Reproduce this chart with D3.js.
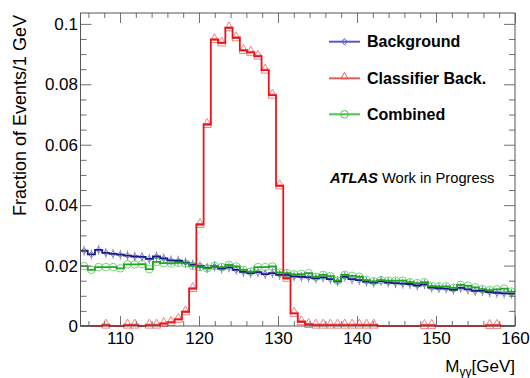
<!DOCTYPE html>
<html>
<head>
<meta charset="utf-8">
<script src="https://cdn.jsdelivr.net/npm/d3@7"></script>
<style>
  html, body { margin: 0; padding: 0; background: #fff; }
  svg { display: block; font-family: "Liberation Sans", Arial, Helvetica, sans-serif; }
</style>
</head>
<body>
<svg id="chart" width="530" height="378"></svg>
<script>
// Histogram binning: 60 bins spanning the diphoton mass window
const massLow = 105;
const massHigh = 160;
const nBins = 60;

// Normalised bin contents (fraction of events per bin)
const background = [
  0.0249, 0.0237, 0.0252, 0.0242, 0.0239, 0.0236, 0.0233, 0.0230, 0.0229, 0.0222,
  0.0230, 0.0224, 0.0217, 0.0216, 0.0210, 0.0203, 0.0198, 0.0192, 0.0197, 0.0190,
  0.0194, 0.0186, 0.0179, 0.0175, 0.0178, 0.0172, 0.0175, 0.0169, 0.0169, 0.0164,
  0.0163, 0.0161, 0.0158, 0.0161, 0.0155, 0.0148, 0.0163, 0.0155, 0.0152, 0.0147,
  0.0144, 0.0149, 0.0144, 0.0142, 0.0140, 0.0139, 0.0134, 0.0138, 0.0127, 0.0125,
  0.0124, 0.0120, 0.0126, 0.0121, 0.0116, 0.0116, 0.0112, 0.0110, 0.0108, 0.0107
];
const classifierBack = [
  0, 0, 0, 0.0003, 0, 0, 0.0003, 0.0003, 0, 0.0003,
  0.0003, 0.0008, 0.0012, 0.0022, 0.0047, 0.0124, 0.0336, 0.0667, 0.0948, 0.0937,
  0.0987, 0.0954, 0.0912, 0.0906, 0.0893, 0.0847, 0.0764, 0.0464, 0.0158, 0.0042,
  0.0014, 0.0005, 0.0003, 0.0003, 0.0003, 0.0003, 0.0003, 0.0003, 0.0003, 0.0003,
  0.0003, 0, 0, 0, 0, 0, 0, 0.0002, 0.0002, 0,
  0, 0, 0, 0, 0, 0, 0.0002, 0.0002, 0, 0
];
const combined = [
  0.0198, 0.0186, 0.0195, 0.0195, 0.0195, 0.0191, 0.0204, 0.0204, 0.0205, 0.0188,
  0.0212, 0.0208, 0.0207, 0.0209, 0.0207, 0.0199, 0.0195, 0.0191, 0.0199, 0.0195,
  0.0202, 0.0197, 0.0186, 0.0180, 0.0195, 0.0195, 0.0197, 0.0177, 0.0175, 0.0171,
  0.0172, 0.0175, 0.0163, 0.0169, 0.0165, 0.0150, 0.0169, 0.0166, 0.0163, 0.0152,
  0.0148, 0.0152, 0.0150, 0.0150, 0.0150, 0.0145, 0.0142, 0.0145, 0.0132, 0.0131,
  0.0131, 0.0126, 0.0136, 0.0133, 0.0128, 0.0122, 0.0119, 0.0121, 0.0124, 0.0114
];

// Axis ticks and labels
const xMajorTicks = [110, 120, 130, 140, 150, 160];
const xMinorTicks = [106, 108, 112, 114, 116, 118, 122, 124, 126, 128, 132, 134, 136, 138,
                     142, 144, 146, 148, 152, 154, 156, 158];
const yMajorTicks = [0, 0.02, 0.04, 0.06, 0.08, 0.1];
const yTickLabels = ["0", "0.02", "0.04", "0.06", "0.08", "0.1"];
const yMinorTicks = [0.005, 0.01, 0.015, 0.025, 0.03, 0.035, 0.045, 0.05, 0.055,
                     0.065, 0.07, 0.075, 0.085, 0.09, 0.095];
const yMax = 0.1036;

const legendLabels = ["Background", "Classifier Back.", "Combined"];

const svg = d3.select("#chart");
const frame = { left: 80.5, right: 515, top: 13, bottom: 326 };

const x = d3.scaleLinear().domain([massLow, massHigh]).range([frame.left, frame.right]);
const y = d3.scaleLinear().domain([0, yMax]).range([frame.bottom, frame.top]);

const binWidth = (massHigh - massLow) / nBins;
const binLowEdge = i => massLow + i * binWidth;
const binCenter = i => massLow + (i + 0.5) * binWidth;

const series = [
  { name: legendLabels[0], values: background, line: "#1c1c86", mark: "#5858c8", marker: "diamond" },
  { name: legendLabels[1], values: classifierBack, line: "#e8161c", mark: "#ee5a5a", marker: "triangle" },
  { name: legendLabels[2], values: combined, line: "#1ea81e", mark: "#4cc44c", marker: "circle" }
];

// Step outline for a histogram
function stepPoints(values) {
  const pts = [];
  values.forEach((v, i) => {
    pts.push([binLowEdge(i), v]);
    pts.push([binLowEdge(i + 1), v]);
  });
  return pts;
}
const stepLine = d3.line().x(d => x(d[0])).y(d => y(d[1]));

const plot = svg.append("g");

function drawMarker(g, kind, cx, cy, color, withBar) {
  if (kind === "diamond") {
    if (withBar) {
      g.append("line").attr("x1", cx).attr("x2", cx).attr("y1", cy - 5).attr("y2", cy + 5)
        .attr("stroke", color).attr("stroke-width", 1);
    }
    g.append("path")
      .attr("d", `M${cx},${cy - 3.2}L${cx + 2.6},${cy}L${cx},${cy + 3.2}L${cx - 2.6},${cy}Z`)
      .attr("fill", "none").attr("stroke", color).attr("stroke-width", 1);
  } else if (kind === "triangle") {
    if (withBar) {
      g.append("rect").attr("x", cx - 3.8).attr("y", cy - 1).attr("width", 7.6).attr("height", 4)
        .attr("fill", "none").attr("stroke", color).attr("stroke-width", 1);
    }
    g.append("path")
      .attr("d", `M${cx},${cy - 6}L${cx + 3.6},${cy + 0.5}L${cx - 3.6},${cy + 0.5}Z`)
      .attr("fill", "none").attr("stroke", color).attr("stroke-width", 1);
  } else {
    g.append("circle").attr("cx", cx).attr("cy", cy).attr("r", 3.8)
      .attr("fill", "none").attr("stroke", color).attr("stroke-width", 1);
  }
}

// Histograms: markers first, then the step outlines
series.forEach(s => {
  const mg = plot.append("g").attr("opacity", 0.75);
  s.values.forEach((v, i) => {
    if (v > 0) drawMarker(mg, s.marker, x(binCenter(i)), y(v), s.mark, true);
  });
});
series.forEach(s => {
  plot.append("path")
    .attr("d", stepLine(stepPoints(s.values)))
    .attr("fill", "none")
    .attr("stroke", s.line)
    .attr("stroke-width", 1.8);
});

// Frame and ticks on all four sides
const tickColor = "#707070";
function ticksOn(axisFn, scale, values, size, translate) {
  const g = svg.append("g").attr("transform", translate)
    .call(axisFn(scale).tickValues(values).tickSize(size).tickFormat(""));
  g.select(".domain").remove();
  g.selectAll(".tick line").attr("stroke", tickColor).attr("stroke-width", 1);
  return g;
}
ticksOn(d3.axisBottom, x, xMinorTicks, -5, `translate(0,${frame.bottom})`);
ticksOn(d3.axisTop, x, xMinorTicks, -5, `translate(0,${frame.top})`);
ticksOn(d3.axisTop, x, xMajorTicks, -10, `translate(0,${frame.top})`);
ticksOn(d3.axisLeft, y, yMinorTicks, -6, `translate(${frame.left},0)`);
ticksOn(d3.axisRight, y, yMinorTicks, -6, `translate(${frame.right},0)`);
ticksOn(d3.axisRight, y, yMajorTicks, -11, `translate(${frame.right},0)`);

const xAxis = svg.append("g").attr("transform", `translate(0,${frame.bottom})`)
  .call(d3.axisBottom(x).tickValues(xMajorTicks).tickSize(-10).tickPadding(6).tickFormat(d3.format("d")));
xAxis.select(".domain").remove();
xAxis.selectAll(".tick line").attr("stroke", tickColor);
xAxis.selectAll(".tick text").attr("font-size", 17).attr("fill", "#000")
  .attr("font-family", "Liberation Sans, Arial, sans-serif");

const yAxis = svg.append("g").attr("transform", `translate(${frame.left},0)`)
  .call(d3.axisLeft(y).tickValues(yMajorTicks).tickSize(-11).tickPadding(2.5)
    .tickFormat((d, i) => yTickLabels[i]));
yAxis.select(".domain").remove();
yAxis.selectAll(".tick line").attr("stroke", tickColor);
yAxis.selectAll(".tick text").attr("font-size", 17).attr("fill", "#000")
  .attr("font-family", "Liberation Sans, Arial, sans-serif");

svg.append("rect")
  .attr("x", frame.left).attr("y", frame.top)
  .attr("width", frame.right - frame.left).attr("height", frame.bottom - frame.top)
  .attr("fill", "none").attr("stroke", "#555").attr("stroke-width", 1);

// Axis titles
svg.append("text")
  .attr("transform", `translate(26,15) rotate(-90)`)
  .attr("text-anchor", "end")
  .attr("font-size", 18)
  .text("Fraction of Events/1 GeV");

const xTitle = svg.append("text")
  .attr("x", frame.right).attr("y", 372)
  .attr("text-anchor", "end")
  .attr("font-size", 17);
xTitle.append("tspan").text("M");
xTitle.append("tspan").attr("font-size", 12).attr("dy", 4).text("γγ");
xTitle.append("tspan").attr("dy", -4).text("[GeV]");

// Legend
const legendY = [41.7, 78.3, 114.3];
series.forEach((s, i) => {
  const g = svg.append("g");
  g.append("line").attr("x1", 329).attr("x2", 360).attr("y1", legendY[i]).attr("y2", legendY[i])
    .attr("stroke", s.mark).attr("stroke-width", 2);
  drawMarker(g, s.marker, 344.5, legendY[i], s.mark, false);
  g.append("text").attr("x", 367).attr("y", legendY[i]).attr("dy", "0.36em")
    .attr("font-size", 16).attr("font-weight", "bold").text(s.name);
});

const atlas = svg.append("text").attr("x", 330).attr("y", 182.5).attr("font-size", 14.7);
atlas.append("tspan").attr("font-weight", "bold").attr("font-style", "italic").text("ATLAS");
atlas.append("tspan").text(" Work in Progress");
</script>
</body>
</html>
